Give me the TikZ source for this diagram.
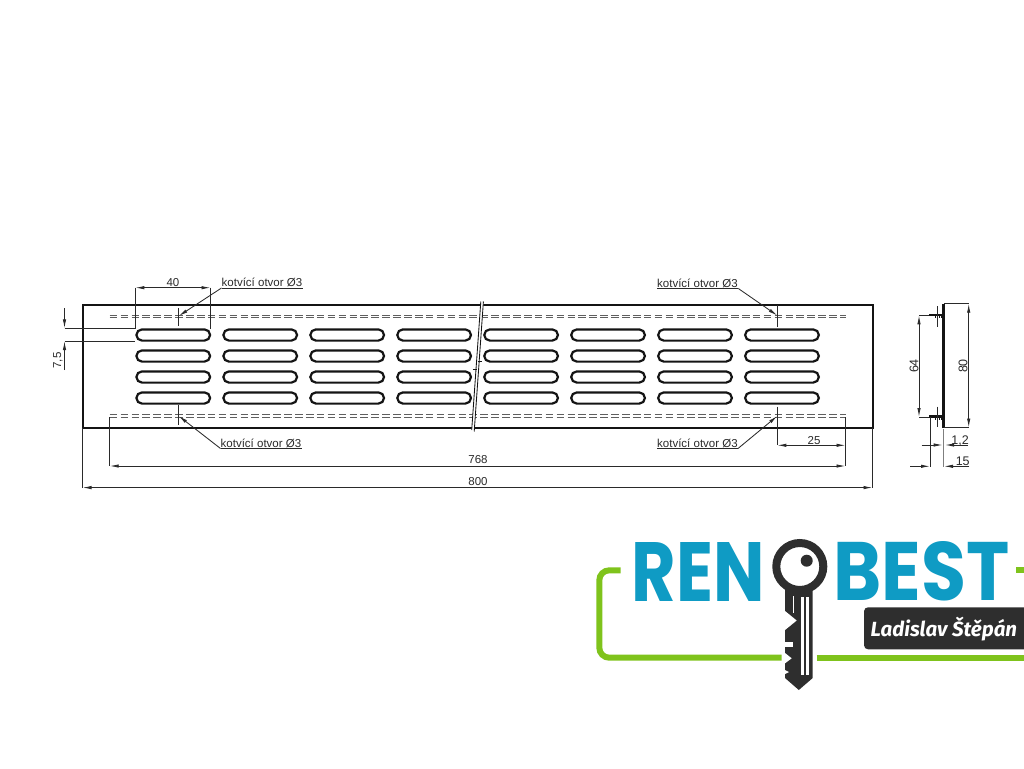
\documentclass[tikz,border=0pt]{standalone}
\usepackage{fontspec}
\setmainfont{Liberation Sans}
\newfontfamily\logofont{Poppins}
\newfontfamily\namefont{Fira Sans}
\usetikzlibrary{arrows.meta}
\definecolor{ink}{HTML}{141414}
\definecolor{dimink}{HTML}{2A2A2A}
\definecolor{logoblue}{HTML}{0F9BC4}
\definecolor{logogreen}{HTML}{7FC31C}
\definecolor{keydark}{HTML}{2E2E2E}
\tikzset{
  x=1pt,y=-1pt,
  outline/.style={draw=ink,line width=2pt},
  slot/.style={draw=ink,line width=2.2pt},
  thinline/.style={draw=dimink,line width=0.85pt},
  hidden/.style={draw=dimink!75,line width=0.9pt,dash pattern=on 7.6pt off 3.3pt},
  dimarrow/.style={thinline,-{Latex[length=9pt,width=3.4pt]}},
  dimboth/.style={thinline,{Latex[length=9pt,width=3.4pt]}-{Latex[length=9pt,width=3.4pt]}},
  dimtext/.style={inner sep=0pt,font=\fontsize{11.5}{11.5}\selectfont,text=dimink},
  anchortext/.style={inner sep=0pt,font=\fontsize{11.5}{11.5}\selectfont,text=dimink},
}
\begin{document}
\begin{tikzpicture}
\useasboundingbox (0,0) rectangle (1024,768);
\clip (0,0) rectangle (1024,768);
% ---- front view
\draw[outline] (82.5,304.5) rectangle (872.5,427.5);
\foreach \c in {0,...,7}{
  \foreach \y in {335,356,377,398}{
    \pgfmathsetmacro{\xa}{142+86.96*\c}
    \pgfmathsetmacro{\xb}{\xa+62.5}
    \draw[slot] (\xa,\y-5.6) -- (\xb,\y-5.6) arc[start angle=90,end angle=-90,radius=5.6pt] -- (\xa,\y+5.6) arc[start angle=270,end angle=90,radius=5.6pt] -- cycle;
  }
}
\foreach \y in {315.4,317.9,414.8,417.2}{
  \draw[hidden] (109.7,\y) -- (845.5,\y);
}
% break
\fill[white] (480.7,301) -- (483.6,301) -- (474.2,432) -- (471.5,432) -- cycle;
\draw[thinline,draw=ink] (480.8,301.5) -- (471.7,430);
\draw[thinline,draw=ink] (483.4,301.5) -- (474.2,431.5);
\draw[thinline,draw=ink] (477.5,361.5) -- (481.5,361.5);
\draw[thinline,draw=ink] (472.5,369.5) -- (476.5,369.5);
% centre marks
\coordinate (tl) at (178.7,316);
\coordinate (tr) at (777.3,315.5);
\coordinate (bl) at (178.7,416);
\coordinate (br) at (777.3,416);
\draw[thinline] (178.7,308) -- (178.7,326);
\draw[thinline] (178.7,405) -- (178.7,425);
\draw[thinline] (777.3,305) -- (777.3,326.5);
\draw[thinline] (777.3,406.5) -- (777.3,445.3);
% anchor labels
\node[anchortext,anchor=base west] (ltl) at (221.5,286.5) {kotvící otvor Ø3};
\node[anchortext,anchor=base west] (ltr) at (657,287) {kotvící otvor Ø3};
\node[anchortext,anchor=base west] (lbl) at (220.5,447) {kotvící otvor Ø3};
\node[anchortext,anchor=base west] (lbr) at (657,447) {kotvící otvor Ø3};
\draw[thinline] (221.5,288) -- (303.3,288);
\draw[thinline] (657,288.5) -- (738.3,288.5);
\draw[thinline] (220.5,448.5) -- (302.3,448.5);
\draw[thinline] (657,448.5) -- (738,448.5);
\draw[dimarrow] (221.5,288) -- (tl);
\draw[dimarrow] (738.3,288.5) -- (tr);
\draw[dimarrow] (220.5,448.5) -- (bl);
\draw[dimarrow] (738,448.5) -- (br);
% dim 40
\draw[thinline] (135.3,287.7) -- (135.3,329);
\draw[thinline] (210.5,287.7) -- (210.5,329);
\draw[dimboth] (135.3,287.7) -- node[dimtext,above=1pt] (d40) {40} (210.5,287.7);
% dim 7,5
\draw[thinline] (64.5,328.3) -- (135,328.3);
\draw[thinline] (64.5,341) -- (135,341);
\draw[dimarrow] (64.5,308) -- (64.5,328.3);
\draw[dimarrow] (64.5,370) -- (64.5,341);
\node[dimtext,rotate=90] (d75) at (58,360.5) {7,5};
% dim 25 / 768 / 800
\draw[thinline] (845.5,417) -- (845.5,466);
\draw[thinline] (109.7,417) -- (109.7,466);
\draw[thinline] (82.5,428) -- (82.5,488);
\draw[thinline] (872.5,428) -- (872.5,488);
\draw[dimboth] (777.3,445.3) -- (845.5,445.3);
\node[dimtext] (d25) at (814,440.5) {25};
\draw[dimboth] (109.7,466) -- (845.5,466);
\node[dimtext] (d768) at (478,460) {768};
\draw[dimboth] (82.5,487.6) -- (872.5,487.6);
\node[dimtext] (d800) at (478,481.5) {800};
% ---- side view
\draw[ink,line width=2.6pt] (943.5,303.5) -- (943.5,427.5);
\draw[ink,line width=2.4pt] (929.3,315.2) -- (943,315.2);
\draw[ink,line width=2.4pt] (929.3,416.5) -- (943,416.5);
\draw[ink,line width=2pt,dash pattern=on 1pt off 1pt] (935,317.2) -- (943,317.2);
\draw[ink,line width=2pt,dash pattern=on 1pt off 1pt] (935,418.5) -- (943,418.5);
\draw[thinline] (937.3,306) -- (937.3,326.7);
\draw[thinline] (937.3,406.7) -- (937.3,427);
\draw[thinline] (919,315.3) -- (929,315.3);
\draw[thinline] (919,417) -- (929,417);
\draw[dimboth] (919,315.3) -- (919,417);
\node[dimtext,rotate=90,font=\fontsize{12.5}{12.5}\selectfont] (d64) at (914,366) {64};
\draw[thinline] (944,303.7) -- (969,303.7);
\draw[thinline] (944,427.5) -- (969,427.5);
\draw[dimboth] (968.7,303.7) -- (968.7,427.5);
\node[dimtext,rotate=90,font=\fontsize{12.5}{12.5}\selectfont] (d80) at (963,366) {80};
\draw[thinline] (930,417) -- (930,466.7);
\draw[thinline,draw=dimink!60] (943.5,429) -- (943.5,466.7);
\draw[dimarrow] (921.7,445) -- (942.7,445);
\draw[dimarrow] (968,445) -- (945,445);
\node[dimtext,font=\fontsize{12.5}{12.5}\selectfont] (d12) at (960,441) {1,2};
\draw[dimarrow] (910,466.3) -- (930,466.3);
\draw[dimarrow] (969.3,466.3) -- (944,466.3);
\node[dimtext,font=\fontsize{12.5}{12.5}\selectfont] (d15) at (962.7,461) {15};
% ---- logo
\draw[logogreen,line width=6pt,rounded corners=10pt] (620.7,570.3) -- (599.3,570.3) -- (599.3,657.7) -- (781.7,657.7);
\draw[logogreen,line width=6pt] (816.7,657.7) -- (1024,657.7);
\draw[logogreen,line width=6pt] (1016,570.3) -- (1024,570.3);
\node[anchor=south west,inner sep=0pt,text=logoblue] (ren) at (631.7,601.7) {\resizebox{133pt}{59pt}{\logofont\bfseries REN}};
\node[anchor=south west,inner sep=0pt,text=logoblue] (best) at (833,601.7) {\resizebox{176pt}{59pt}{\logofont\bfseries BEST}};
\fill[keydark,rounded corners=4pt] (864,607.3) rectangle (1040,649.3);
\node[anchor=base west,inner sep=0pt,text=white,font=\fontsize{20.5}{20.5}\selectfont\namefont\bfseries\itshape] (nm) at (870.5,636) {Ladislav Štěpán};
% key
\fill[keydark] (785,590) -- (812.7,590) -- (812.7,678) -- (798.8,690) -- (785,678) -- cycle;
\fill[white] (785,611) -- (796.7,620.5) -- (785,630) -- (784,620) -- cycle;
\fill[white] (784,641.7) rectangle (793.3,646.7);
\fill[white] (785,653) -- (791.7,658.3) -- (785,663.3) -- (784,658) -- cycle;
\fill[white] (785,670) -- (789,672) -- (785,674) -- cycle;
\draw[white,line width=0.7pt] (793.5,596) -- (793.5,613);
\fill[white] (800.7,596.7) rectangle (804,675);
\fill[white] (806,596.7) rectangle (809.3,675);
\draw[keydark,line width=8pt,fill=white] (799.8,566.5) circle (23.5pt);
\fill[keydark] (806.7,560.7) circle (6pt);
\end{tikzpicture}
\end{document}
